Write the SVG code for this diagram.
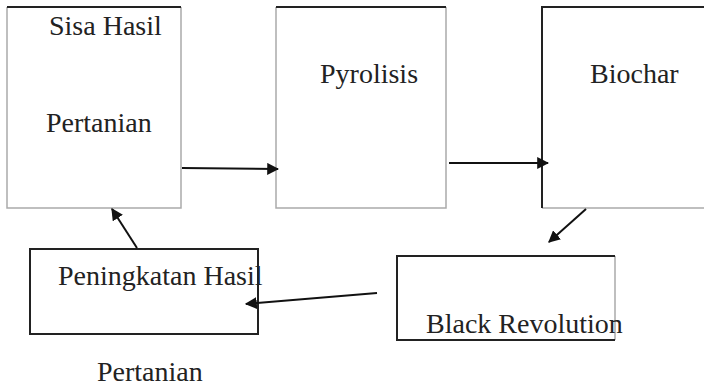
<svg xmlns="http://www.w3.org/2000/svg" width="704" height="386" viewBox="0 0 704 386">
<style>
text{font-family:'Liberation Serif','Times New Roman',serif;font-size:28px;fill:#222}
.g{stroke:#aaa;stroke-width:1.5;fill:none}
.d{stroke:#222;stroke-width:2;fill:none}
.c{stroke:#111;stroke-width:2;fill:none;marker-end:url(#ah)}
</style>
<defs>
<marker id="ah" viewBox="0 0 10 10" refX="9" refY="5" markerWidth="6" markerHeight="6" orient="auto" markerUnits="strokeWidth">
<path d="M0,0 L10,5 L0,10 z" fill="#111"/>
</marker>
</defs>
<rect width="704" height="386" fill="#fff"/>
<g id="sisa">
<path class="g" d="M7,7 V208 H181 V7"/>
<path class="d" d="M7,7 H181"/>
<text x="49" y="35">Sisa Hasil</text>
<text x="46" y="132">Pertanian</text>
</g>
<g id="pyrolisis">
<path class="g" d="M276,7 V208 H446 V7"/>
<path class="d" d="M276,7 H446"/>
<text x="320" y="83">Pyrolisis</text>
</g>
<g id="biochar">
<path class="g" d="M542,208 H704"/>
<path class="d" d="M542,208 V7 H704"/>
<text x="590" y="83">Biochar</text>
</g>
<g id="black">
<path class="g" d="M615,256 V340"/>
<path class="d" d="M615,256 H397 V340 H615"/>
<text x="426" y="333">Black Revolution</text>
</g>
<g id="peningkatan">
<rect class="d" x="30" y="249" width="228" height="85"/>
<text x="58" y="285">Peningkatan Hasil</text>
<text x="97" y="381">Pertanian</text>
</g>
<g id="connectors">
<path class="c" d="M182,168 L278,169"/>
<path class="c" d="M449,163 L548,163"/>
<path class="c" d="M586,209 L549,242"/>
<path class="c" d="M377,293 L246,304"/>
<path class="c" d="M137,248 L112,209"/>
</g>
</svg>
